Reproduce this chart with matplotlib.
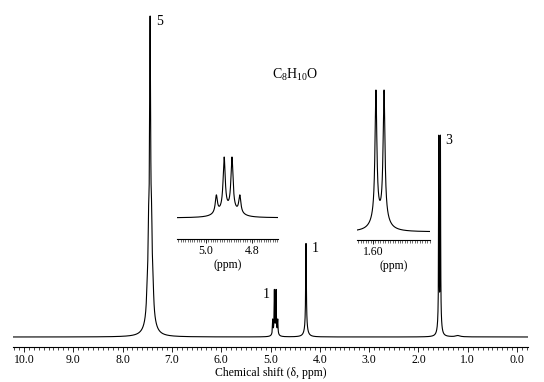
import numpy as np
import matplotlib
matplotlib.use("Agg")
import matplotlib.pyplot as plt
from matplotlib.ticker import MultipleLocator, FixedLocator, FixedFormatter

plt.rcParams['font.family'] = ['Liberation Serif', 'DejaVu Serif']
plt.rcParams['mathtext.fontset'] = 'custom'
plt.rcParams['mathtext.rm'] = 'Liberation Serif'

# Lines: position (ppm), intensity, half width (ppm)
peak_ppm = [7.50, 7.47, 7.44, 7.41, 7.38,
            4.955, 4.921, 4.887, 4.853,
            4.28,
            1.588, 1.555,
            1.20]
peak_amp = [0.05, 0.20, 0.85, 0.20, 0.05,
            0.044, 0.132, 0.132, 0.044,
            0.28,
            0.58, 0.58,
            0.004]
peak_hw = [0.015, 0.015, 0.012, 0.015, 0.015,
           0.0055, 0.0055, 0.0055, 0.0055,
           0.008,
           0.0045, 0.0045,
           0.05]

# Integration labels
group_text = ["5", "1", "1", "3"]
group_ppm = [7.44, 4.904, 4.28, 1.5715]
group_side = ["right", "left", "right", "right"]

main_ticks = [10.0, 9.0, 8.0, 7.0, 6.0, 5.0, 4.0, 3.0, 2.0, 1.0, 0.0]
inset1_ticks = [5.0, 4.8]
inset1_labels = ["5.0", "4.8"]
inset2_ticks = [1.60]
inset2_labels = ["1.60"]

FOOT = 0.08


def spectrum(x):
    y = np.zeros_like(x)
    for c, a, w in zip(peak_ppm, peak_amp, peak_hw):
        wb = 5 * w
        y += a * ((1 - FOOT) * w**2 / ((x - c)**2 + w**2)
                  + FOOT * wb**2 / ((x - c)**2 + wb**2))
    return y


W, H = 544, 382
fig = plt.figure(figsize=(W / 100, H / 100), dpi=100)

# main spectrum
ax = fig.add_axes([13 / W, 35 / H, 515 / W, 347 / H])
ax.patch.set_alpha(0)
x = np.arange(-0.3, 10.3, 0.0005)
y = spectrum(x)
ymax = y.max()
ax.plot(x, y, color="black", lw=0.8)
ax.set_xlim(10.22, -0.22)
ax.set_ylim(-10 / 321 * ymax, 337 / 321 * ymax)
for s in ["left", "right", "top"]:
    ax.spines[s].set_visible(False)
ax.spines["bottom"].set_linewidth(0.8)
ax.set_yticks([])
ax.xaxis.set_major_locator(FixedLocator(main_ticks))
ax.xaxis.set_major_formatter(FixedFormatter(["%.1f" % t for t in main_ticks]))
ax.xaxis.set_minor_locator(MultipleLocator(0.1))
ax.tick_params(axis="x", which="major", length=3.5, width=0.6, labelsize=8.5, pad=1.5)
ax.tick_params(axis="x", which="minor", length=2.5, width=0.5)
ax.set_xlabel("Chemical shift (δ, ppm)", fontsize=8.5, labelpad=1)

for t, p, side in zip(group_text, group_ppm, group_side):
    top = spectrum(np.linspace(p - 0.08, p + 0.08, 4001)).max()
    dx = 4 if side == "right" else -4
    ax.annotate(t, xy=(p, top), xytext=(dx, 1), textcoords="offset points",
                ha="left" if side == "right" else "right", va="top", fontsize=10)

fig.text(295 / W, 1 - 75 / H, r"C$_\mathregular{8}$H$_\mathregular{10}$O",
         ha="center", va="center", fontsize=10)


def inset(rect, xlim, ticks, labels, base_px, peak_px):
    a = fig.add_axes(rect)
    a.patch.set_alpha(0)
    xi = np.linspace(xlim[0], xlim[1], 3000)
    yi = spectrum(xi)
    m = yi.max()
    h_px = rect[3] * H
    a.plot(xi, yi, color="black", lw=0.8)
    a.set_xlim(*xlim)
    a.set_ylim(-base_px / peak_px * m, (h_px - base_px) / peak_px * m)
    for s in ["left", "right", "top"]:
        a.spines[s].set_visible(False)
    a.spines["bottom"].set_linewidth(0.8)
    a.set_yticks([])
    a.xaxis.set_major_locator(FixedLocator(ticks))
    a.xaxis.set_major_formatter(FixedFormatter(labels))
    a.xaxis.set_minor_locator(MultipleLocator(0.01))
    a.tick_params(axis="x", which="major", length=3, width=0.6, labelsize=8.5, pad=1.5)
    a.tick_params(axis="x", which="minor", length=2, width=0.4)
    a.set_xlabel("(ppm)", fontsize=8.5, labelpad=1)
    return a


inset([177 / W, (H - 239) / H, 101 / W, 89 / H], (5.126, 4.687),
      inset1_ticks, inset1_labels, 21, 61)
inset([357 / W, (H - 240) / H, 73 / W, 155 / H], (1.665, 1.368),
      inset2_ticks, inset2_labels, 8, 142)

fig.savefig("out.png", dpi=100)
